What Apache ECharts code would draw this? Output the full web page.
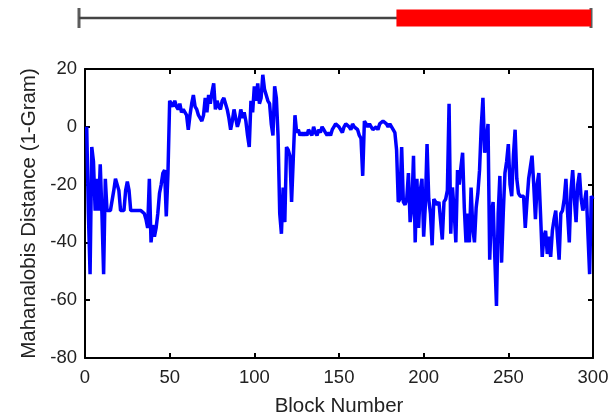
<!DOCTYPE html>
<html>
<head>
<meta charset="utf-8">
<script src="https://cdn.jsdelivr.net/npm/echarts@6/dist/echarts.min.js"></script>
<style>
  html, body { margin: 0; padding: 0; background: #fff; }
  #chart { width: 612px; height: 417px; }
</style>
</head>
<body>
<div id="chart"></div>
<script>
// Mahalanobis distance per block (blocks 1..300)
const distance = [
  0, -30, -51, -7, -12, -29, -18, -29, -13, -30,
  -51, -18, -29, -29, -29, -29, -22, -18, -18, -22,
  -29, -29, -29, -22, -19, -22, -29, -29, -29, -29,
  -29, -29, -29, -29, -30, -32, -35, -18, -40, -34,
  -38, -35, -30, -23, -20, -16, -15, -31, -16, 9,
  9, 7, 9, 7, 6, 8, 5, 6, 6, 4,
  -1, 4, 8, 11, 7, 6, 4, 3, 2, 4,
  10, 5, 11, 8, 12, 15, 6, 9, 7, 6,
  9, 10, 8, 6, 3, -1, 2, 6, 3, 0,
  2, 6, 3, 5, 2, -3, -7, 9, 5, 14,
  9, 15, 8, 10, 18, 13, 11, 9, 8, 1,
  -3, 14, 10, -3, -30, -37, -21, -33, -7, -8,
  -10, -26, -11, 4, -2, -1, -3, -2, -3, -2,
  -3, -1, -2, -3, 0, -2, -3, -1, -2, 0,
  -1, -2, -3, -2, -3, -1, 0, 1, 1, 0,
  0, -2, 0, 1, 1, 0, -1, 1, 0, 0,
  -1, -3, -4, -17, 2, 1, 0, 1, 0, -1,
  -1, 0, -1, 1, 1, 2, 2, 1, 0, 1,
  1, -1, -2, -8, -26, -25, -7, -26, -27, -25,
  -16, -33, -28, -10, -40, -18, -35, -22, -18, -38,
  -27, -6, -25, -30, -41, -25, -26, -27, -26, -26,
  -39, -26, -25, -22, 8, -37, -21, -29, -40, -15,
  -20, -14, -9, -28, -40, -30, -40, -21, -35, -40,
  -28, -23, -15, 0, 10, -9, -5, 1, -46, -30,
  -26, -45, -62, -30, -17, -47, -30, -16, -12, -6,
  -20, -24, -10, -1, -18, -23, -24, -24, -24, -35,
  -26, -18, -14, -10, -20, -32, -20, -16, -30, -45,
  -38, -36, -44, -38, -45, -36, -32, -29, -38, -46,
  -30, -29, -25, -18, -30, -40, -22, -15, -25, -33,
  -20, -16, -25, -29, -26, -22, -37, -51, -24, -25
];
const blocks = distance.map((_, i) => i + 1);

// timeline strip above the plot
const timelineSpan = [0, 300];
const flaggedSpan = [186, 300];

const textColor = "#222";
const font = "'Liberation Sans', Arial, Helvetica, sans-serif";

const chart = echarts.init(document.getElementById("chart"));

const boxAxis = (extra) => Object.assign({
  type: "value",
  axisLine: { show: true, onZero: false, lineStyle: { color: "#000", width: 2 } },
  axisTick: { show: true, inside: true, length: 5, lineStyle: { color: "#000", width: 2 } },
  splitLine: { show: false },
  axisLabel: { show: false },
}, extra);

chart.setOption({
  animation: false,
  grid: [
    { left: 85, right: 19, top: 69, bottom: 59, outerBoundsMode: "none" },
    { left: 79, width: 512, top: 8, height: 20, outerBoundsMode: "none" },
  ],
  xAxis: [
    boxAxis({
      gridIndex: 0, position: "bottom", min: 0, max: 300, interval: 50,
      axisLabel: { show: true, color: textColor, fontSize: 18.5, fontFamily: font, margin: 10 },
      name: "Block Number", nameLocation: "middle", nameGap: 38,
      nameTextStyle: { color: textColor, fontSize: 20.5, fontFamily: font },
    }),
    boxAxis({ gridIndex: 0, position: "top", min: 0, max: 300, interval: 50 }),
    { type: "value", gridIndex: 1, min: timelineSpan[0], max: timelineSpan[1], show: false },
  ],
  yAxis: [
    boxAxis({
      gridIndex: 0, position: "left", min: -80, max: 20, interval: 20,
      axisLabel: { show: true, color: textColor, fontSize: 18.5, fontFamily: font, margin: 8 },
      name: "Mahanalobis Distance (1-Gram)", nameLocation: "middle", nameGap: 45,
      nameTextStyle: { color: textColor, fontSize: 20.5, fontFamily: font },
    }),
    boxAxis({ gridIndex: 0, position: "right", min: -80, max: 20, interval: 20 }),
    { type: "value", gridIndex: 1, min: -1, max: 1, show: false },
  ],
  series: [
    {
      type: "line",
      xAxisIndex: 0, yAxisIndex: 0,
      data: blocks.map((b, i) => [b, distance[i]]),
      symbol: "none",
      lineStyle: { color: "#0000ff", width: 3.5 },
    },
    {
      type: "line",
      xAxisIndex: 2, yAxisIndex: 2,
      data: timelineSpan.map((x) => [x, 0]),
      symbol: "none",
      lineStyle: { color: "#444", width: 2.5 },
    },
    {
      type: "line",
      xAxisIndex: 2, yAxisIndex: 2,
      data: flaggedSpan.map((x) => [x, 0]),
      symbol: "none",
      lineStyle: { color: "#ff0000", width: 17, cap: "butt" },
    },
    {
      type: "scatter",
      xAxisIndex: 2, yAxisIndex: 2,
      data: timelineSpan.map((x) => [x, 0]),
      symbol: "rect",
      symbolSize: [3, 20],
      itemStyle: { color: "#333" },
    },
  ],
});
</script>
</body>
</html>
